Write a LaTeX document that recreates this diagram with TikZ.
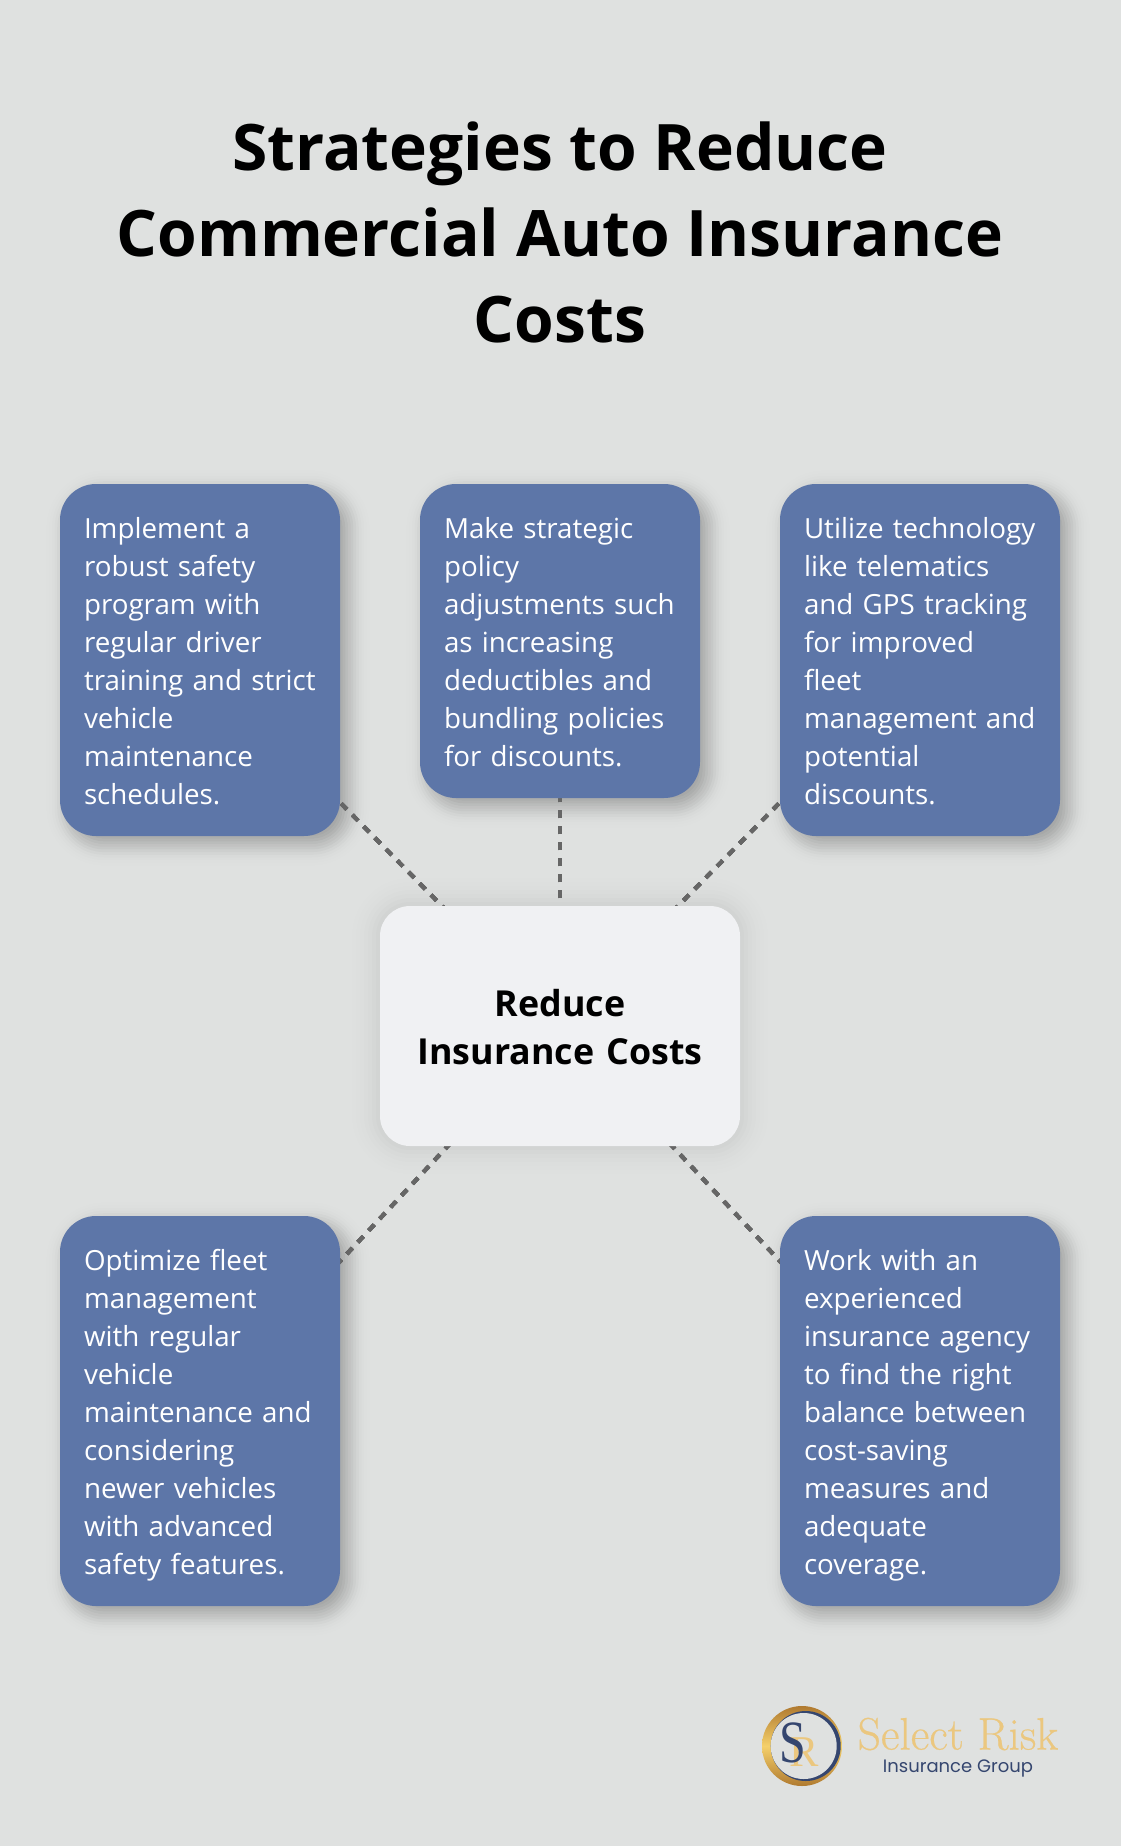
\documentclass[tikz,border=0pt]{standalone}
\usepackage{fontspec}
\setmainfont{Open Sans}
\newfontfamily\logofont{Poppins}
\newfontfamily\markfont{Liberation Serif}
\newfontfamily\brandfont[FakeBold=0.5]{Latin Modern Roman}
\usetikzlibrary{positioning,backgrounds}

\definecolor{pagebg}{HTML}{DFE1E0}
\definecolor{tipblue}{HTML}{5D76A8}
\definecolor{hubwhite}{HTML}{F0F1F3}
\definecolor{wiregray}{HTML}{666666}
\definecolor{logogold}{HTML}{EBC77F}
\definecolor{logonavy}{HTML}{35466F}
\definecolor{ringgold}{HTML}{F5D06A}
\definecolor{ringbronze}{HTML}{B07A30}

\newcommand{\tipstrut}{\rule[-8pt]{0pt}{38pt}}
\newcommand{\hubstrut}{\rule[-10pt]{0pt}{48pt}}

\tikzset{
	tip/.style={fill=tipblue, text=white, rounded corners=36pt, inner sep=24pt, outer sep=0pt,
		text width=232pt, align=left, font=\fontsize{27.75}{38}\selectfont,
		execute at begin node={\rightskip=-10pt\tipstrut}, execute at end node=\tipstrut},
	hub/.style={fill=hubwhite, text=black, rounded corners=30pt, inner sep=0pt, outer sep=0pt,
		text width=360pt, minimum height=240pt, align=center,
		font=\fontsize{35.8}{48}\selectfont\bfseries,
		execute at begin node=\hubstrut, execute at end node=\hubstrut},
	wire/.style={draw=wiregray, line width=4pt, dash pattern=on 8pt off 8pt},
}

% stack of pale outlines behind a node: node, offset, radius, opacity, spread
\newcommand{\softshadow}[5]{
	\foreach \t in {-24,-22,...,24} {
		\pgfmathsetmacro{\s}{\t*#5}
		\pgfmathsetmacro{\r}{max(#3+\s,1)}
		\pgfmathsetmacro{\o}{#4*exp(-(\t/10)*(\t/10))}
		\fill[black, opacity=\o, rounded corners=\r pt]
			([shift={(#2-\s,#2-\s)}]#1.north west) rectangle ([shift={(#2+\s,#2+\s)}]#1.south east);
	}
}

\begin{document}
\begin{tikzpicture}[x=1pt, y=-1pt]
	\useasboundingbox (0,0) rectangle (1120,1846);

	\node[font=\fontsize{64.1}{86}\selectfont\bfseries, align=center, inner sep=0pt] (title) at (560,232)
		{Strategies to Reduce\\Commercial Auto Insurance\\Costs};

	\node[hub] (hub) at (560,1026) {Reduce\\Insurance Costs};

	\node[tip, anchor=north west] (safety) at (60,484)
		{Implement a\\robust safety\\program with\\regular driver\\training and strict\\vehicle\\maintenance\\schedules.};
	\node[tip, right=80pt of safety.north east, anchor=north west] (policy)
		{Make strategic\\policy\\adjustments such\\as increasing\\deductibles and\\bundling policies\\for discounts.};
	\node[tip, right=80pt of policy.north east, anchor=north west] (telematics)
		{Utilize technology\\like telematics\\and GPS tracking\\for improved\\fleet\\management and\\potential\\discounts.};
	\node[tip, anchor=north west] (fleet) at (60,1216)
		{Optimize fleet\\management\\with regular\\vehicle\\maintenance and\\considering\\newer vehicles\\with advanced\\safety features.};
	\node[tip, anchor=north west] (agency) at (780,1216)
		{Work with an\\experienced\\insurance agency\\to find the right\\balance between\\cost-saving\\measures and\\adequate\\coverage.};

	\begin{scope}[on background layer]
		\fill[pagebg] (-4,-4) rectangle (1124,1850);
		\softshadow{hub}{0}{30}{0.014}{2}
		\foreach \i in {safety,policy,telematics,fleet,agency}
			\softshadow{\i}{8}{36}{0.034}{1.35}
		\foreach \i in {safety,policy,telematics,fleet,agency}
			\draw[wire] (hub.center) -- (\i.center);
	\end{scope}

	% logo
	\shade[top color=ringbronze, bottom color=ringbronze, middle color=ringgold] (802,1746) circle (40);
	\fill[logonavy] (805.7,1746) circle (35);
	\fill[pagebg] (803.7,1746) circle (33);
	\node[font=\fontsize{44}{44}\selectfont\markfont, text=logogold, inner sep=0pt] (markr) at (804,1752.5) {R};
	\node[font=\fontsize{60}{60}\selectfont\markfont, text=logonavy, inner sep=0pt, xscale=0.8] (marks) at (792.5,1743) {S};
	\node[font=\fontsize{45.5}{46}\selectfont\brandfont, text=logogold, inner sep=0pt] (brand) at (958,1734) {Select Risk};
	\node[font=\fontsize{18}{18}\selectfont\logofont, text=logonavy, inner sep=0pt] (group) at (958,1768) {Insurance Group};
\end{tikzpicture}
\end{document}
